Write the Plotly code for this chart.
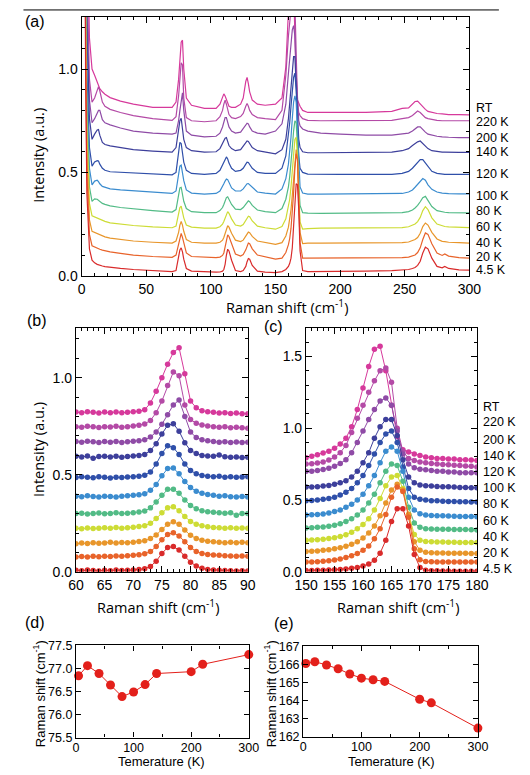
import plotly.graph_objects as go

W, H = 530, 775
def px(x):
    return x / W
def py(y):
    return 1 - y / H

TEMPS = ["RT", "220 K", "200 K", "140 K", "120 K", "100 K", "80 K", "60 K", "40 K", "20 K", "4.5 K"]
COLORS = ["#d6399b", "#b44aa6", "#8f4ba6", "#3d3f9b", "#2f4fa9", "#3b8ccf",
          "#52bb86", "#cddc35", "#e8962b", "#e8632a", "#d92b2b"]

# ---------------- panel (a): full spectra ----------------
XA = [2, 3, 4, 6, 8, 10, 12, 13, 14, 16,
      18, 22, 30, 40, 55, 70, 73, 75, 76, 77,
      78, 79, 81, 85, 95, 104, 107, 109, 110, 111,
      112, 113, 114, 116, 119, 123, 125, 127, 128, 129,
      130, 132, 136, 142, 150, 155, 158, 160, 161, 162,
      163, 164, 165, 166, 167, 168, 169, 171, 175, 185,
      200, 220, 240, 248, 253, 256, 258, 260, 262, 264,
      266, 268, 271, 275, 279, 281, 284, 292, 300]

A_RT = [3.0, 2.5, 1.8, 1.15, 1.0, 0.97, 0.935, 0.92, 0.905, 0.89,
        0.878, 0.862, 0.845, 0.83, 0.815, 0.815, 0.84, 0.95, 1.05, 1.13,
        1.14, 1.0, 0.86, 0.825, 0.81, 0.81, 0.83, 0.86, 0.88, 0.87,
        0.85, 0.83, 0.82, 0.815, 0.815, 0.83, 0.86, 0.94, 0.96, 0.93,
        0.89, 0.85, 0.83, 0.825, 0.83, 0.86, 1.01, 1.28, 1.43, 1.55,
        1.57, 1.40, 1.16, 0.94, 0.85, 0.83, 0.82, 0.80, 0.79, 0.79,
        0.79, 0.79, 0.795, 0.81, 0.812, 0.83, 0.843, 0.845, 0.83, 0.815,
        0.805, 0.795, 0.79, 0.785, 0.783, 0.782, 0.78, 0.78, 0.778]
A_220 = [3.0, 2.4, 1.5, 0.95, 0.84, 0.86, 0.90, 0.915, 0.895, 0.84,
         0.82, 0.805, 0.79, 0.775, 0.76, 0.752, 0.77, 0.87, 0.95, 1.03,
         1.02, 0.86, 0.765, 0.75, 0.745, 0.75, 0.77, 0.80, 0.83, 0.85,
         0.83, 0.80, 0.78, 0.765, 0.76, 0.77, 0.785, 0.82, 0.834, 0.82,
         0.80, 0.78, 0.765, 0.76, 0.755, 0.80, 0.97, 1.16, 1.25, 1.33,
         1.40, 1.42, 1.32, 1.0, 0.84, 0.79, 0.775, 0.76, 0.752, 0.75,
         0.75, 0.75, 0.752, 0.76, 0.765, 0.775, 0.785, 0.797, 0.79, 0.775,
         0.765, 0.76, 0.755, 0.752, 0.75, 0.75, 0.75, 0.75, 0.75]
A_200 = [3.0, 2.2, 1.3, 0.85, 0.74, 0.76, 0.79, 0.80, 0.80, 0.755,
         0.74, 0.73, 0.715, 0.70, 0.69, 0.685, 0.69, 0.75, 0.80, 0.86,
         0.885, 0.80, 0.70, 0.68, 0.672, 0.675, 0.69, 0.72, 0.745, 0.765,
         0.765, 0.74, 0.72, 0.70, 0.69, 0.695, 0.71, 0.73, 0.738, 0.735,
         0.72, 0.70, 0.69, 0.685, 0.70, 0.735, 0.83, 0.98, 1.06, 1.13,
         1.19, 1.21, 1.16, 0.98, 0.82, 0.75, 0.725, 0.71, 0.70, 0.69,
         0.685, 0.68, 0.68, 0.685, 0.69, 0.70, 0.71, 0.72, 0.72, 0.705,
         0.695, 0.685, 0.68, 0.675, 0.672, 0.67, 0.67, 0.668, 0.668]
A_140 = [3.0, 2.0, 1.2, 0.76, 0.66, 0.685, 0.705, 0.707, 0.68, 0.645,
         0.635, 0.628, 0.62, 0.61, 0.603, 0.598, 0.62, 0.70, 0.75, 0.762,
         0.72, 0.66, 0.62, 0.605, 0.598, 0.60, 0.615, 0.64, 0.655, 0.665,
         0.668, 0.65, 0.63, 0.615, 0.605, 0.61, 0.625, 0.645, 0.652, 0.65,
         0.64, 0.62, 0.605, 0.60, 0.59, 0.61, 0.66, 0.76, 0.83, 0.93,
         1.01, 1.06, 1.06, 0.95, 0.78, 0.66, 0.62, 0.60, 0.595, 0.595,
         0.595, 0.595, 0.598, 0.605, 0.615, 0.63, 0.64, 0.648, 0.652, 0.64,
         0.625, 0.615, 0.605, 0.60, 0.598, 0.598, 0.597, 0.597, 0.597]
A_120 = [3.0, 1.8, 1.0, 0.62, 0.53, 0.55, 0.557, 0.555, 0.54, 0.52,
         0.51, 0.503, 0.50, 0.497, 0.493, 0.488, 0.50, 0.60, 0.645, 0.64,
         0.60, 0.55, 0.51, 0.495, 0.49, 0.495, 0.51, 0.535, 0.55, 0.565,
         0.575, 0.565, 0.545, 0.52, 0.505, 0.51, 0.52, 0.54, 0.549, 0.548,
         0.54, 0.52, 0.50, 0.495, 0.495, 0.52, 0.58, 0.67, 0.74, 0.82,
         0.90, 0.96, 0.98, 0.90, 0.73, 0.58, 0.52, 0.50, 0.492, 0.49,
         0.49, 0.49, 0.49, 0.495, 0.505, 0.52, 0.535, 0.55, 0.562, 0.562,
         0.545, 0.525, 0.505, 0.495, 0.49, 0.49, 0.49, 0.49, 0.49]
A_100 = [3.0, 1.6, 0.9, 0.52, 0.44, 0.458, 0.462, 0.455, 0.445, 0.432,
         0.427, 0.42, 0.415, 0.41, 0.403, 0.398, 0.41, 0.49, 0.53, 0.535,
         0.50, 0.46, 0.415, 0.40, 0.395, 0.398, 0.41, 0.43, 0.445, 0.458,
         0.468, 0.465, 0.45, 0.425, 0.41, 0.41, 0.42, 0.437, 0.445, 0.446,
         0.44, 0.425, 0.405, 0.40, 0.395, 0.42, 0.47, 0.54, 0.60, 0.67,
         0.76, 0.84, 0.87, 0.84, 0.70, 0.52, 0.43, 0.40, 0.395, 0.395,
         0.395, 0.395, 0.395, 0.398, 0.405, 0.415, 0.428, 0.442, 0.458, 0.47,
         0.462, 0.44, 0.418, 0.405, 0.40, 0.398, 0.397, 0.396, 0.396]
A_80 = [3.0, 1.4, 0.8, 0.43, 0.36, 0.372, 0.37, 0.365, 0.358, 0.35,
        0.345, 0.338, 0.33, 0.323, 0.315, 0.308, 0.32, 0.39, 0.425, 0.428,
        0.40, 0.36, 0.325, 0.31, 0.305, 0.305, 0.315, 0.33, 0.345, 0.362,
        0.378, 0.382, 0.37, 0.345, 0.322, 0.32, 0.33, 0.348, 0.358, 0.362,
        0.358, 0.34, 0.318, 0.31, 0.305, 0.325, 0.37, 0.43, 0.48, 0.54,
        0.62, 0.70, 0.75, 0.74, 0.63, 0.45, 0.34, 0.305, 0.303, 0.302,
        0.302, 0.302, 0.302, 0.305, 0.31, 0.318, 0.328, 0.34, 0.358, 0.378,
        0.384, 0.365, 0.335, 0.315, 0.308, 0.307, 0.305, 0.304, 0.304]
A_60 = [3.0, 1.3, 0.7, 0.35, 0.29, 0.285, 0.278, 0.275, 0.272, 0.267,
        0.263, 0.256, 0.25, 0.243, 0.236, 0.232, 0.24, 0.30, 0.33, 0.337,
        0.31, 0.28, 0.245, 0.235, 0.23, 0.23, 0.237, 0.25, 0.262, 0.28,
        0.30, 0.31, 0.302, 0.275, 0.245, 0.24, 0.248, 0.268, 0.28, 0.288,
        0.285, 0.265, 0.24, 0.232, 0.225, 0.238, 0.275, 0.33, 0.37, 0.43,
        0.51, 0.60, 0.66, 0.67, 0.58, 0.40, 0.26, 0.225, 0.228, 0.23,
        0.23, 0.23, 0.23, 0.233, 0.237, 0.243, 0.25, 0.262, 0.282, 0.315,
        0.334, 0.32, 0.28, 0.25, 0.24, 0.238, 0.236, 0.234, 0.233]
A_40 = [3.0, 1.2, 0.6, 0.27, 0.215, 0.21, 0.203, 0.2, 0.197, 0.192,
        0.188, 0.182, 0.175, 0.168, 0.162, 0.158, 0.168, 0.21, 0.245, 0.262,
        0.245, 0.215, 0.175, 0.162, 0.158, 0.158, 0.162, 0.172, 0.185, 0.205,
        0.228, 0.242, 0.235, 0.205, 0.172, 0.165, 0.172, 0.192, 0.205, 0.211,
        0.208, 0.19, 0.168, 0.16, 0.152, 0.16, 0.192, 0.235, 0.27, 0.32,
        0.39, 0.48, 0.57, 0.61, 0.57, 0.40, 0.21, 0.155, 0.158, 0.158,
        0.158, 0.158, 0.158, 0.16, 0.163, 0.168, 0.175, 0.185, 0.205, 0.238,
        0.255, 0.245, 0.21, 0.178, 0.166, 0.165, 0.162, 0.16, 0.158]
A_20 = [3.0, 1.1, 0.5, 0.2, 0.145, 0.138, 0.133, 0.13, 0.128, 0.124,
        0.12, 0.115, 0.108, 0.1, 0.093, 0.089, 0.1, 0.16, 0.19, 0.205,
        0.185, 0.155, 0.11, 0.093, 0.088, 0.087, 0.09, 0.098, 0.11, 0.135,
        0.17, 0.198, 0.19, 0.155, 0.105, 0.095, 0.102, 0.125, 0.145, 0.158,
        0.155, 0.13, 0.1, 0.09, 0.08, 0.085, 0.112, 0.15, 0.18, 0.23,
        0.30, 0.40, 0.52, 0.59, 0.56, 0.38, 0.16, 0.085, 0.085, 0.085,
        0.085, 0.085, 0.085, 0.087, 0.09, 0.095, 0.1, 0.112, 0.135, 0.175,
        0.207, 0.2, 0.155, 0.11, 0.098, 0.105, 0.095, 0.087, 0.085]
A_4 = [3.0, 1.0, 0.4, 0.13, 0.075, 0.062, 0.055, 0.052, 0.05, 0.047,
       0.044, 0.04, 0.035, 0.03, 0.025, 0.02, 0.025, 0.085, 0.125, 0.135,
       0.115, 0.08, 0.035, 0.022, 0.018, 0.017, 0.018, 0.022, 0.03, 0.055,
       0.1, 0.128, 0.12, 0.075, 0.025, 0.02, 0.025, 0.045, 0.068, 0.083,
       0.08, 0.05, 0.022, 0.017, 0.015, 0.02, 0.03, 0.045, 0.06, 0.085,
       0.135, 0.225, 0.355, 0.445, 0.44, 0.32, 0.12, 0.025, 0.02, 0.02,
       0.02, 0.022, 0.025, 0.027, 0.03, 0.035, 0.04, 0.05, 0.07, 0.11,
       0.138, 0.13, 0.085, 0.045, 0.038, 0.045, 0.035, 0.028, 0.027]

# ---------------- panel (b): 60-90 cm-1 ----------------
XB = list(range(60, 91))
B_RT = [0.823, 0.82, 0.825, 0.822, 0.818, 0.823, 0.82, 0.824, 0.82, 0.822,
        0.825, 0.828, 0.835, 0.87, 0.93, 1.0, 1.07, 1.13, 1.155, 1.02,
        0.88, 0.845, 0.83, 0.825, 0.822, 0.818, 0.82, 0.816, 0.818, 0.814, 0.815]
B_220 = [0.747, 0.745, 0.75, 0.747, 0.744, 0.748, 0.746, 0.75, 0.745, 0.748,
         0.752, 0.755, 0.762, 0.78, 0.82, 0.88, 0.96, 1.03, 1.01, 0.86,
         0.785, 0.765, 0.757, 0.752, 0.748, 0.745, 0.747, 0.743, 0.745, 0.742, 0.74]
B_200 = [0.671, 0.668, 0.673, 0.67, 0.666, 0.671, 0.668, 0.672, 0.667, 0.67,
         0.673, 0.676, 0.68, 0.695, 0.72, 0.76, 0.81, 0.86, 0.885, 0.80,
         0.72, 0.692, 0.68, 0.675, 0.672, 0.668, 0.67, 0.666, 0.669, 0.667, 0.668]
B_140 = [0.595, 0.592, 0.597, 0.585, 0.594, 0.596, 0.592, 0.595, 0.59, 0.594,
         0.597, 0.60, 0.605, 0.625, 0.66, 0.71, 0.755, 0.763, 0.725, 0.665,
         0.625, 0.61, 0.60, 0.597, 0.595, 0.602, 0.593, 0.59, 0.592, 0.589, 0.59]
B_120 = [0.486, 0.49, 0.488, 0.485, 0.49, 0.487, 0.484, 0.488, 0.486, 0.489,
         0.49, 0.493, 0.498, 0.515, 0.555, 0.61, 0.65, 0.64, 0.605, 0.555,
         0.522, 0.505, 0.497, 0.493, 0.49, 0.492, 0.488, 0.49, 0.487, 0.489, 0.49]
B_100 = [0.39, 0.387, 0.392, 0.388, 0.385, 0.39, 0.388, 0.386, 0.39, 0.392,
         0.394, 0.397, 0.403, 0.42, 0.45, 0.495, 0.532, 0.535, 0.505, 0.465,
         0.435, 0.415, 0.405, 0.398, 0.395, 0.39, 0.392, 0.387, 0.385, 0.388, 0.385]
B_80 = [0.30, 0.302, 0.298, 0.30, 0.303, 0.299, 0.301, 0.304, 0.30, 0.302,
        0.305, 0.308, 0.313, 0.33, 0.36, 0.395, 0.425, 0.425, 0.405, 0.37,
        0.342, 0.325, 0.315, 0.31, 0.307, 0.304, 0.302, 0.305, 0.292, 0.30, 0.30]
B_60 = [0.224, 0.222, 0.226, 0.223, 0.225, 0.227, 0.224, 0.228, 0.225, 0.227,
        0.23, 0.233, 0.238, 0.25, 0.275, 0.305, 0.33, 0.335, 0.315, 0.285,
        0.26, 0.245, 0.237, 0.232, 0.229, 0.227, 0.225, 0.227, 0.224, 0.226, 0.225]
B_40 = [0.145, 0.148, 0.146, 0.15, 0.147, 0.149, 0.152, 0.148, 0.151, 0.15,
        0.153, 0.156, 0.16, 0.172, 0.19, 0.218, 0.245, 0.258, 0.245, 0.215,
        0.188, 0.172, 0.163, 0.158, 0.155, 0.152, 0.15, 0.153, 0.15, 0.152, 0.15]
B_20 = [0.077, 0.079, 0.076, 0.08, 0.078, 0.081, 0.079, 0.082, 0.08, 0.083,
        0.085, 0.088, 0.093, 0.105, 0.13, 0.165, 0.193, 0.202, 0.185, 0.155,
        0.125, 0.105, 0.095, 0.09, 0.087, 0.085, 0.083, 0.082, 0.08, 0.082, 0.08]
B_4 = [0.008, 0.006, 0.009, 0.007, 0.005, 0.008, 0.006, 0.009, 0.007, 0.008,
       0.01, 0.012, 0.016, 0.028, 0.055, 0.095, 0.125, 0.13, 0.112, 0.08,
       0.05, 0.03, 0.018, 0.012, 0.01, 0.008, 0.007, 0.006, 0.005, 0.006, 0.005]

# ---------------- panel (c): 150-180 cm-1 ----------------
XC = list(range(150, 181))
C_RT = [0.795, 0.805, 0.815, 0.828, 0.84, 0.86, 0.89, 0.93, 1.01, 1.13,
        1.28, 1.43, 1.55, 1.57, 1.40, 1.16, 0.94, 0.85, 0.835, 0.82,
        0.81, 0.80, 0.795, 0.79, 0.79, 0.785, 0.785, 0.78, 0.78, 0.778, 0.775]
C_220 = [0.75, 0.752, 0.757, 0.765, 0.778, 0.80, 0.83, 0.88, 0.97, 1.07,
         1.16, 1.25, 1.33, 1.40, 1.42, 1.32, 1.0, 0.84, 0.79, 0.775,
         0.765, 0.76, 0.755, 0.75, 0.748, 0.745, 0.742, 0.74, 0.737, 0.735, 0.73]
C_200 = [0.70, 0.70, 0.705, 0.712, 0.722, 0.735, 0.755, 0.78, 0.83, 0.90,
         0.98, 1.06, 1.13, 1.19, 1.21, 1.16, 0.98, 0.82, 0.75, 0.725,
         0.715, 0.71, 0.705, 0.70, 0.70, 0.695, 0.695, 0.69, 0.69, 0.69, 0.69]
C_140 = [0.59, 0.59, 0.593, 0.597, 0.602, 0.61, 0.62, 0.635, 0.66, 0.70,
         0.76, 0.83, 0.93, 1.01, 1.06, 1.06, 0.95, 0.78, 0.66, 0.62,
         0.605, 0.60, 0.597, 0.595, 0.593, 0.592, 0.59, 0.588, 0.587, 0.586, 0.585]
C_120 = [0.495, 0.497, 0.50, 0.505, 0.51, 0.52, 0.535, 0.555, 0.58, 0.62,
         0.67, 0.74, 0.82, 0.90, 0.96, 0.98, 0.90, 0.73, 0.58, 0.52,
         0.505, 0.50, 0.495, 0.495, 0.492, 0.49, 0.49, 0.488, 0.488, 0.487, 0.486]
C_100 = [0.395, 0.397, 0.40, 0.403, 0.41, 0.42, 0.43, 0.45, 0.47, 0.50,
         0.54, 0.60, 0.67, 0.76, 0.84, 0.87, 0.84, 0.70, 0.52, 0.43,
         0.405, 0.395, 0.392, 0.39, 0.39, 0.388, 0.387, 0.386, 0.385, 0.385, 0.384]
C_80 = [0.305, 0.307, 0.31, 0.313, 0.318, 0.325, 0.335, 0.35, 0.37, 0.395,
        0.43, 0.48, 0.54, 0.62, 0.70, 0.75, 0.74, 0.63, 0.45, 0.34,
        0.31, 0.30, 0.298, 0.297, 0.296, 0.296, 0.295, 0.295, 0.294, 0.293, 0.292]
C_60 = [0.22, 0.222, 0.224, 0.227, 0.232, 0.238, 0.246, 0.258, 0.275, 0.30,
        0.33, 0.37, 0.43, 0.51, 0.60, 0.66, 0.67, 0.58, 0.40, 0.26,
        0.22, 0.212, 0.21, 0.208, 0.207, 0.206, 0.206, 0.205, 0.205, 0.205, 0.205]
C_40 = [0.142, 0.144, 0.146, 0.15, 0.154, 0.16, 0.168, 0.178, 0.192, 0.21,
        0.235, 0.27, 0.32, 0.39, 0.48, 0.57, 0.61, 0.57, 0.40, 0.21,
        0.15, 0.137, 0.133, 0.132, 0.131, 0.13, 0.13, 0.13, 0.129, 0.128, 0.128]
C_20 = [0.068, 0.069, 0.071, 0.074, 0.078, 0.083, 0.09, 0.10, 0.112, 0.128,
        0.15, 0.18, 0.23, 0.30, 0.40, 0.52, 0.59, 0.56, 0.38, 0.16,
        0.085, 0.072, 0.07, 0.069, 0.068, 0.068, 0.068, 0.068, 0.068, 0.068, 0.068]
C_4 = [0.01, 0.01, 0.011, 0.012, 0.013, 0.015, 0.017, 0.02, 0.025, 0.03,
       0.04, 0.055, 0.08, 0.13, 0.22, 0.35, 0.44, 0.44, 0.32, 0.12,
       0.03, 0.012, 0.008, 0.007, 0.006, 0.006, 0.005, 0.005, 0.005, 0.005, 0.005]

# ---------------- panels (d), (e): peak positions ----------------
T_K = [4.5, 20, 40, 60, 80, 100, 120, 140, 200, 220, 300]
D_SHIFT = [76.84, 77.06, 76.89, 76.64, 76.39, 76.49, 76.65, 76.89, 76.93, 77.09, 77.30]
E_SHIFT = [166.05, 166.15, 165.97, 165.76, 165.47, 165.24, 165.15, 165.06, 164.07, 163.87, 162.47]

SPEC_A = [A_RT, A_220, A_200, A_140, A_120, A_100, A_80, A_60, A_40, A_20, A_4]
SPEC_B = [B_RT, B_220, B_200, B_140, B_120, B_100, B_80, B_60, B_40, B_20, B_4]
SPEC_C = [C_RT, C_220, C_200, C_140, C_120, C_100, C_80, C_60, C_40, C_20, C_4]

for name, arrs, xs in (("A", SPEC_A, XA), ("B", SPEC_B, XB), ("C", SPEC_C, XC)):
    for i, a in enumerate(arrs):
        if len(a) != len(xs):
            raise ValueError(f"{name}{i}: {len(a)} vs {len(xs)}")

LABEL_Y_A = [103, 117, 134, 148, 170, 193, 208, 224, 241, 255, 268]
LABEL_Y_C = [408, 423, 442, 458, 474, 491, 507, 524, 540, 557, 573]

TICKFONT = dict(family="Liberation Sans, Arial", size=14, color="black")
SMALLFONT = dict(family="Liberation Sans, Arial", size=13, color="black")
LABFONT = dict(family="Liberation Sans, Arial", size=12.5, color="black")
TITLEFONT = dict(family="Open Sans, Liberation Sans", size=14.5, color="black")

fig = go.Figure()

for i in range(11):
    fig.add_trace(go.Scatter(x=XA, y=SPEC_A[i], mode="lines",
                             line=dict(color=COLORS[i], width=1.2),
                             xaxis="x", yaxis="y", showlegend=False))
for i in range(11):
    fig.add_trace(go.Scatter(x=XB, y=SPEC_B[i], mode="lines+markers",
                             line=dict(color=COLORS[i], width=1),
                             marker=dict(color=COLORS[i], size=5.5),
                             xaxis="x2", yaxis="y2", showlegend=False))
for i in range(11):
    fig.add_trace(go.Scatter(x=XC, y=SPEC_C[i], mode="lines+markers",
                             line=dict(color=COLORS[i], width=1),
                             marker=dict(color=COLORS[i], size=5.5),
                             xaxis="x3", yaxis="y3", showlegend=False))
RED = "#e3201b"
fig.add_trace(go.Scatter(x=T_K, y=D_SHIFT, mode="lines+markers",
                         line=dict(color=RED, width=1), marker=dict(color=RED, size=9),
                         xaxis="x4", yaxis="y4", showlegend=False, cliponaxis=False))
fig.add_trace(go.Scatter(x=T_K, y=E_SHIFT, mode="lines+markers",
                         line=dict(color=RED, width=1), marker=dict(color=RED, size=9),
                         xaxis="x5", yaxis="y5", showlegend=False, cliponaxis=False))


def ax(domain, rng, dtick, minor=None, anchor=None, fmt=None, font=TICKFONT, ticklen=6,
       standoff=0):
    d = dict(domain=domain, range=rng, dtick=dtick, tick0=rng[0],
             showline=True, linecolor="black", linewidth=1.2, mirror="ticks",
             ticks="inside", ticklen=ticklen, tickwidth=1, tickcolor="black",
             showgrid=False, zeroline=False, tickfont=font, anchor=anchor,
             ticklabelstandoff=standoff)
    if fmt:
        d["tickformat"] = fmt
    if minor:
        d["minor"] = dict(dtick=minor, ticks="inside", ticklen=3, tickcolor="black",
                          tickwidth=1, showgrid=False)
    return d

fig.update_layout(
    autosize=True, margin=dict(l=0, r=0, t=0, b=0),
    paper_bgcolor="white", plot_bgcolor="white",
    xaxis=ax([px(73), px(479)], [0, 300], 50, 10, "y"),
    yaxis=ax([py(274), py(10)], [0, 1.253], 0.5, 0.1, "x", ".1f"),
    xaxis2=ax([px(67), px(247)], [60, 90], 5, 1, "y2"),
    yaxis2=ax([py(576), py(327)], [0, 1.258], 0.5, 0.1, "x2", ".1f"),
    xaxis3=ax([px(308), px(487)], [150, 180], 5, 1, "y3"),
    yaxis3=ax([py(576), py(327)], [0, 1.70], 0.5, 0.1, "x3", ".1f"),
    xaxis4=ax([px(67), px(248)], [0, 300], 100, 50, "y4", font=LABFONT, ticklen=5, standoff=-2),
    yaxis4=ax([py(745), py(651)], [75.5, 77.5], 0.5, None, "x4", ".1f", font=LABFONT, ticklen=5),
    xaxis5=ax([px(305), px(488)], [0, 300], 100, 50, "y5", font=LABFONT, ticklen=5, standoff=-2),
    yaxis5=ax([py(744), py(652)], [162, 167], 1, None, "x5", "d", font=LABFONT, ticklen=5),
)

ann = []
def text(x, y, s, font, xanchor="center", yanchor="middle", angle=0):
    ann.append(dict(x=px(x), y=py(y), xref="paper", yref="paper", text=s, showarrow=False,
                    font=font, xanchor=xanchor, yanchor=yanchor, textangle=angle))

PANELFONT = dict(family="Liberation Sans, Arial", size=16, color="black")
text(12, 15, "(a)", PANELFONT, xanchor="left")
text(14, 320, "(b)", PANELFONT, xanchor="left")
text(262, 326, "(c)", PANELFONT, xanchor="left")
text(12, 628, "(d)", PANELFONT, xanchor="left")
text(272, 629, "(e)", PANELFONT, xanchor="left")

XT = "Raman shift (cm<sup>-1</sup>)"
text(288, 305, XT, TITLEFONT)
text(153, 611, XT, TITLEFONT)
text(404, 611, XT, TITLEFONT)
text(27, 151, "Intensity (a.u.)", TITLEFONT, angle=-90)
text(27, 451, "Intensity (a.u.)", TITLEFONT, angle=-90)
text(157, 769, "Temerature (K)", SMALLFONT)
text(397, 769, "Temerature (K)", SMALLFONT)
text(29, 700, XT, SMALLFONT, angle=-90)
text(271, 700, XT, SMALLFONT, angle=-90)

for i in range(11):
    text(484, LABEL_Y_A[i], TEMPS[i], LABFONT, xanchor="left")
    text(491, LABEL_Y_C[i], TEMPS[i], LABFONT, xanchor="left")

fig.update_layout(annotations=ann,
                  shapes=[dict(type="line", xref="paper", yref="paper",
                               x0=px(12), x1=px(510), y0=py(3), y1=py(3),
                               line=dict(color="black", width=1))])

POST = ("document.documentElement.style.margin='0';"
        "document.body.style.margin='0';"
        "document.documentElement.style.overflow='hidden';"
        "document.body.style.overflow='hidden';"
        "var gd=document.getElementById('{plot_id}');"
        "Plotly.Plots.resize(gd);")
fig.write_html("out.html", default_width="100vw", default_height="100vh",
               config={"displayModeBar": False, "responsive": True},
               post_script=POST)
